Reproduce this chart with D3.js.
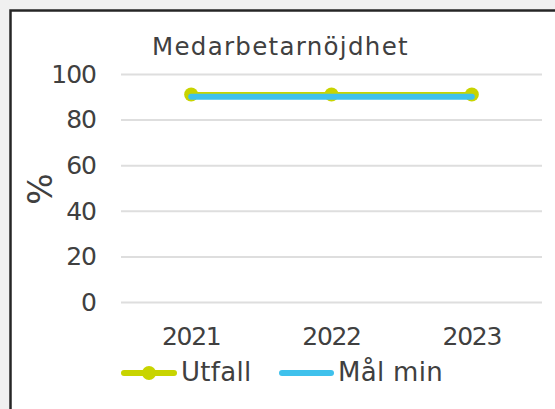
<!DOCTYPE html>
<html><head><meta charset="utf-8">
<script src="https://cdn.jsdelivr.net/npm/d3@7"></script>
<style>html,body{margin:0;padding:0;background:#f0f0f0;}svg{display:block;}</style>
</head><body>
<script>
const title = "Medarbetarnöjdhet";
const years = ["2021", "2022", "2023"];
const utfall = [91, 91, 91];
const malMin = [90, 90, 90];
const yTicks = [0, 20, 40, 60, 80, 100];
const seriesNames = ["Utfall", "Mål min"];
const colors = ["#c8d400", "#3fc1ec"];

const W = 555, H = 409;
const svg = d3.select("body").append("svg").attr("width", W).attr("height", H);
svg.append("rect").attr("width", W).attr("height", H).attr("fill", "#f0f0f0");
svg.append("rect").attr("x", 10.5).attr("y", 10.5).attr("width", 700).attr("height", 700)
  .attr("fill", "#ffffff").attr("stroke", "#262626").attr("stroke-width", 2.5);

const font = "'DejaVu Sans', sans-serif";
const txt = "#404040";

const x = d3.scaleBand().domain(years).range([121, 542]).padding(0);
const y = d3.scaleLinear().domain([0, 100]).range([302, 74]);
const cx = d => x(d) + x.bandwidth() / 2;

// gridlines
const yAxis = d3.axisLeft(y).tickValues(yTicks).tickSize(-(542 - 121)).tickPadding(26);
const gy = svg.append("g").attr("transform", "translate(121,0)").call(yAxis);
gy.select(".domain").remove();
gy.selectAll(".tick line").attr("stroke", "#dedede").attr("stroke-width", 2);
gy.selectAll(".tick text").attr("fill", txt).style("font-family", font).style("font-size", "25px")
  .style("letter-spacing", "-1px").attr("x", -25).attr("dy", "0.33em");

// x axis labels
const xAxis = d3.axisBottom(x).tickSize(0).tickPadding(0);
const gx = svg.append("g").attr("transform", "translate(0,345)").call(xAxis);
gx.select(".domain").remove();
gx.selectAll(".tick text").attr("fill", txt).style("font-family", font).style("font-size", "25px")
  .style("letter-spacing", "-1.3px").attr("y", 0).attr("dy", 0);

// title
svg.append("text").attr("x", 152).attr("y", 54.5).text(title)
  .attr("fill", txt).style("font-family", font).style("font-size", "24.5px").style("letter-spacing", "1.3px");

// y label
svg.append("text").attr("transform", "translate(52,189) rotate(-90)").attr("text-anchor", "middle")
  .text("%").attr("fill", txt).style("font-family", font).style("font-size", "33px");

// Utfall series
const line = d3.line().x((d, i) => cx(years[i])).y(d => y(d));
svg.append("path").datum(utfall).attr("d", line).attr("fill", "none")
  .attr("stroke", colors[0]).attr("stroke-width", 5).attr("stroke-linecap", "round");
svg.selectAll("circle.u").data(utfall).enter().append("circle").attr("class", "u")
  .attr("cx", (d, i) => cx(years[i])).attr("cy", d => y(d)).attr("r", 7).attr("fill", colors[0]);

// Mål min
svg.append("path").datum(malMin).attr("d", line).attr("fill", "none")
  .attr("stroke", colors[1]).attr("stroke-width", 6).attr("stroke-linecap", "round");

// legend
const leg = [{x0: 124, x1: 174, tx: 181}, {x0: 282, x1: 331, tx: 338}];
const ly = 373;
seriesNames.forEach((name, i) => {
  svg.append("line").attr("x1", leg[i].x0).attr("x2", leg[i].x1).attr("y1", ly).attr("y2", ly)
    .attr("stroke", colors[i]).attr("stroke-width", 6).attr("stroke-linecap", "round");
  if (i === 0) svg.append("circle").attr("cx", (leg[i].x0 + leg[i].x1) / 2).attr("cy", ly).attr("r", 7).attr("fill", colors[i]);
  svg.append("text").attr("x", leg[i].tx).attr("y", 381).text(name).attr("fill", txt)
    .style("font-family", font).style("font-size", "26px").style("letter-spacing", "0.3px");
});
</script>
</body></html>
